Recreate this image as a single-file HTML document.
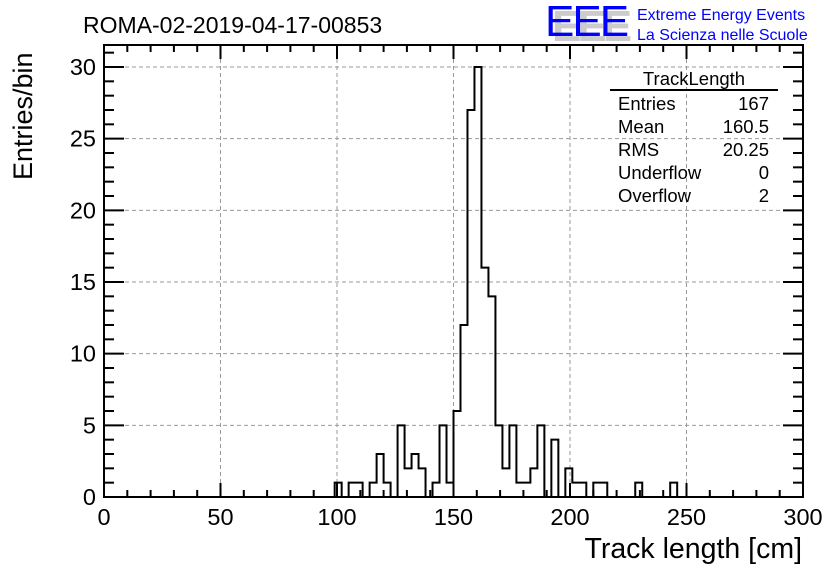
<!DOCTYPE html>
<html><head><meta charset="utf-8"><style>
html,body{margin:0;padding:0;background:#fff;}
svg{display:block;font-family:"Liberation Sans",sans-serif;}
</style></head><body>
<svg id="chart" width="836" height="572" viewBox="0 0 836 572" xmlns="http://www.w3.org/2000/svg">
<rect width="836" height="572" fill="#fff"/>
<g id="grid"></g>
<g id="ticks"></g>
<path id="hist" fill="none" stroke="#000" stroke-width="2"/>
<rect x="104" y="45" width="699" height="452" fill="none" stroke="#000" stroke-width="2"/>
<g id="labels"></g>
<text x="83" y="33" font-size="23">ROMA-02-2019-04-17-00853</text>
<text x="802" y="558" font-size="28.5" text-anchor="end">Track length [cm]</text>
<text transform="translate(32,180) rotate(-90)" font-size="27">Entries/bin</text>
<g>
<text x="552" y="41" font-size="44" fill="#ccc" font-weight="bold" letter-spacing="-4">EEE</text>
<text x="545" y="36" font-size="44" fill="#00f" letter-spacing="-2">EEE</text>
<text x="637" y="20" font-size="16" fill="#00f">Extreme Energy Events</text>
<text x="637" y="40" font-size="16" fill="#00f">La Scienza nelle Scuole</text>
</g>
<g font-size="18.5">
<text x="694" y="85" text-anchor="middle">TrackLength</text>
<line x1="610" y1="90" x2="778" y2="90" stroke="#000" stroke-width="2"/>
<text x="618" y="110">Entries</text><text x="769" y="110" text-anchor="end">167</text>
<text x="618" y="133">Mean</text><text x="769" y="133" text-anchor="end">160.5</text>
<text x="618" y="156">RMS</text><text x="769" y="156" text-anchor="end">20.25</text>
<text x="618" y="179">Underflow</text><text x="769" y="179" text-anchor="end">0</text>
<text x="618" y="202">Overflow</text><text x="769" y="202" text-anchor="end">2</text>
</g>
</svg>
<script>
const binStarts = [99,102,105,108,111,114,117,120,123,126,129,132,135,138,141,144,147,150,153,156,159,162,165,168,171,174,177,180,183,186,189,192,195,198,201,204,207,210,213,216,228,231,243,246];
const counts    = [1,0,1,1,0,1,3,1,0,5,2,3,2,0,1,5,1,6,12,27,30,16,14,5,2,5,1,1,2,5,0,4,0,2,1,1,0,1,1,0,1,0,1,0];
const xTicks = [0,50,100,150,200,250,300];
const yTicks = [0,5,10,15,20,25,30];
const binWidth = 3;
const X0=104,X1=803,Y0=497,Y1=67;
const xs = v => X0 + (v-0)/(300-0)*(X1-X0);
const ys = v => Y0 - v/30*(Y0-Y1);
const NS="http://www.w3.org/2000/svg";
function mk(tag, attrs, parent){const e=document.createElementNS(NS,tag);for(const k in attrs)e.setAttribute(k,attrs[k]);parent.appendChild(e);return e;}
const grid=document.getElementById('grid'),ticks=document.getElementById('ticks'),labels=document.getElementById('labels');
xTicks.forEach(t=>{
  if(t>0&&t<300){const l=mk('line',{x1:xs(t),x2:xs(t),y1:45,y2:Y0,stroke:'#999','stroke-dasharray':'4,3','stroke-width':1},grid);
  
  }
  const tx=mk('text',{x:xs(t),y:525,'font-size':23.5,'text-anchor':'middle'},labels);tx.textContent=t;
  
  
});
yTicks.forEach(t=>{
  if(t>0){const l=mk('line',{x1:X0,x2:X1,y1:ys(t),y2:ys(t),stroke:'#999','stroke-dasharray':'4,3','stroke-width':1},grid);
  
  }
  const tx=mk('text',{x:96,y:ys(t)+8,'font-size':23.5,'text-anchor':'end'},labels);tx.textContent=t;
  
  
});
for(let v=0;v<=300;v+=10){const L=(v%50===0)?14:7;
  mk('line',{x1:xs(v),x2:xs(v),y1:Y0,y2:Y0-L,stroke:'#000','stroke-width':2},ticks);
  mk('line',{x1:xs(v),x2:xs(v),y1:45,y2:45+L,stroke:'#000','stroke-width':2},ticks);}
for(let v=0;v<=31;v+=1){const L=(v%5===0)?20:10;
  if(ys(v)<45)continue;
  mk('line',{x1:X0,x2:X0+L,y1:ys(v),y2:ys(v),stroke:'#000','stroke-width':2},ticks);
  mk('line',{x1:X1,x2:X1-L,y1:ys(v),y2:ys(v),stroke:'#000','stroke-width':2},ticks);}
let d='M'+xs(0)+','+ys(0)+' L'+xs(binStarts[0])+','+ys(0);
let prevEnd=binStarts[0];
binStarts.forEach((b,i)=>{
  if(b>prevEnd){d+=' L'+xs(prevEnd)+','+ys(0)+' L'+xs(b)+','+ys(0);}
  d+=' L'+xs(b)+','+ys(counts[i])+' L'+xs(b+binWidth)+','+ys(counts[i]);
  prevEnd=b+binWidth;
});
d+=' L'+xs(prevEnd)+','+ys(0)+' L'+xs(300)+','+ys(0);
document.getElementById('hist').setAttribute('d',d);
</script>
</body></html>
